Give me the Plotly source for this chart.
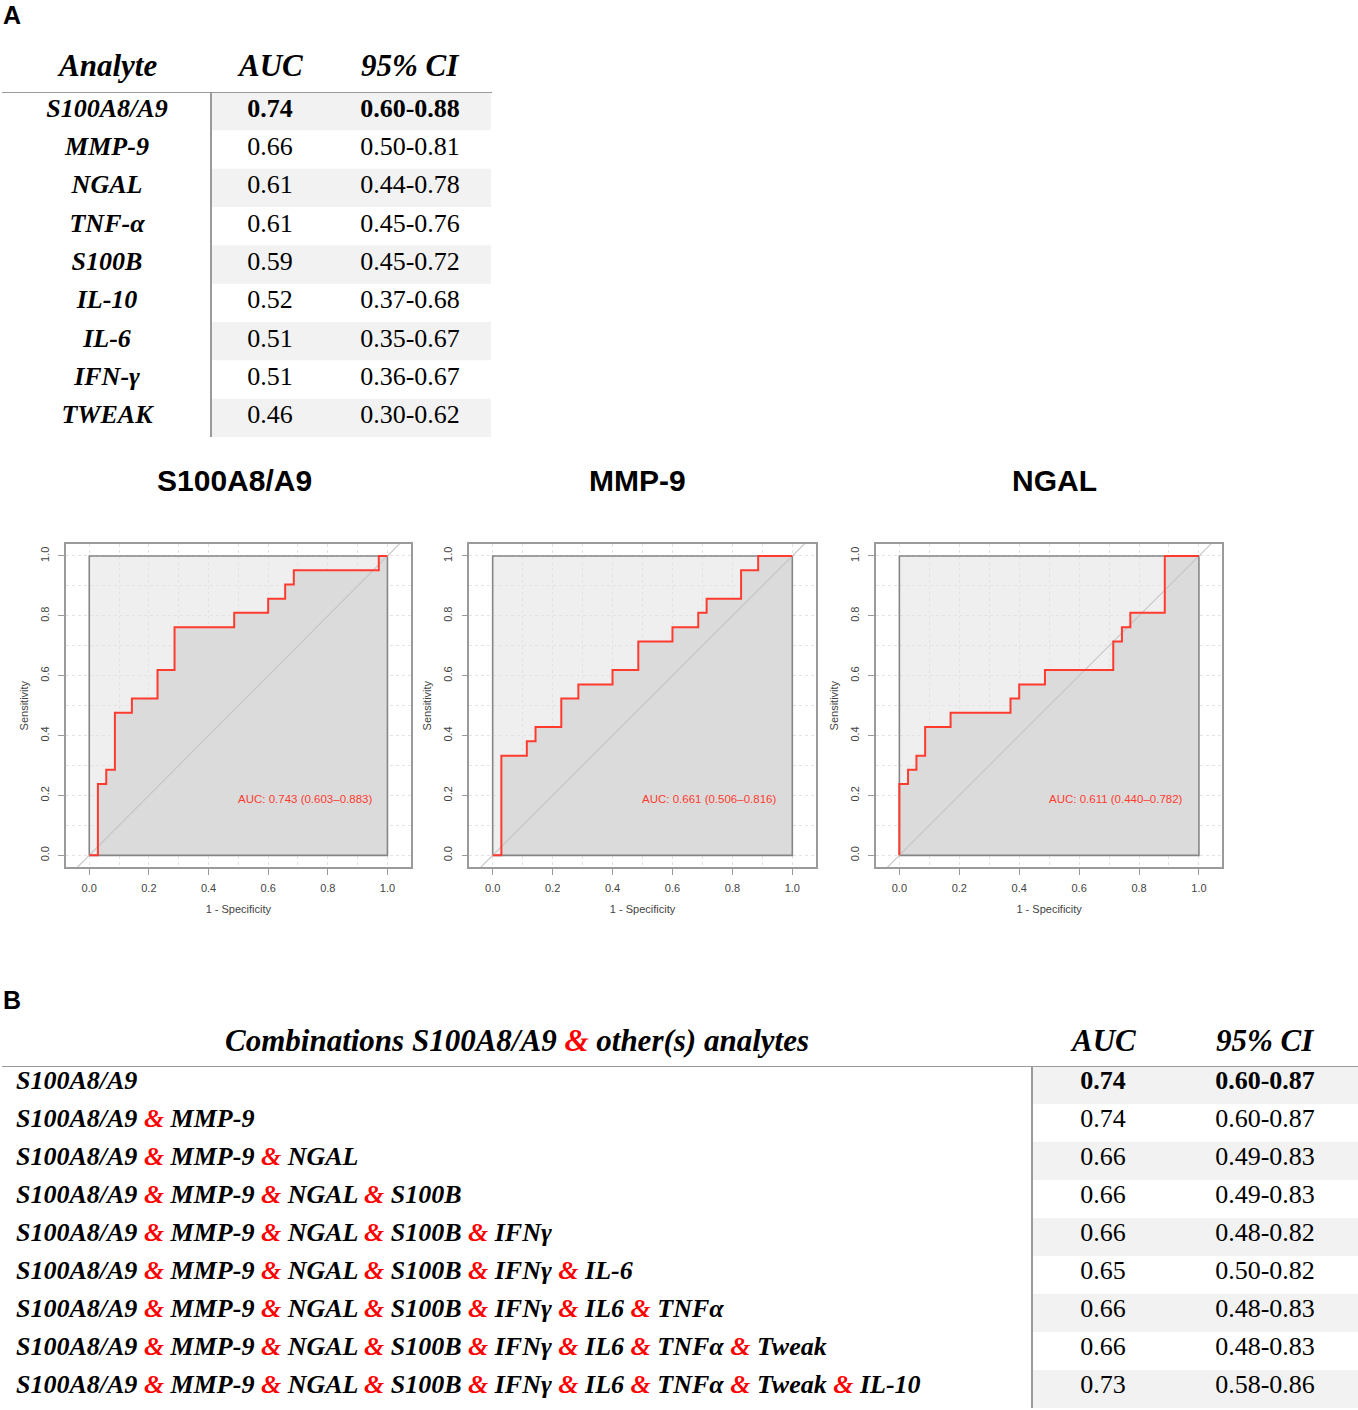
import plotly.graph_objects as go

W, H = 1358, 1410

# ---------------- data ----------------
# Table A
analytes = ["S100A8/A9", "MMP-9", "NGAL", "TNF-α", "S100B", "IL-10", "IL-6", "IFN-γ", "TWEAK"]
auc_a = ["0.74", "0.66", "0.61", "0.61", "0.59", "0.52", "0.51", "0.51", "0.46"]
ci_a = ["0.60-0.88", "0.50-0.81", "0.44-0.78", "0.45-0.76", "0.45-0.72",
        "0.37-0.68", "0.35-0.67", "0.36-0.67", "0.30-0.62"]
header_a = ["Analyte", "AUC", "95% CI"]

# ROC curves (1 - specificity, sensitivity) step corners
roc_names = ["S100A8/A9", "MMP-9", "NGAL"]
roc_fpr_s100 = [0, 0.029, 0.057, 0.086, 0.143, 0.229, 0.286, 0.486, 0.600, 0.657, 0.686, 0.971, 1.0]
roc_tpr_s100 = [0, 0.238, 0.286, 0.476, 0.524, 0.619, 0.762, 0.810, 0.857, 0.905, 0.952, 1.0, 1.0]
roc_fpr_mmp = [0, 0.029, 0.114, 0.143, 0.229, 0.286, 0.400, 0.486, 0.600, 0.686, 0.714, 0.829, 0.886, 1.0]
roc_tpr_mmp = [0, 0.333, 0.381, 0.429, 0.524, 0.571, 0.619, 0.714, 0.762, 0.810, 0.857, 0.952, 1.0, 1.0]
roc_fpr_ngal = [0, 0, 0.029, 0.057, 0.086, 0.171, 0.371, 0.400, 0.486, 0.714, 0.743, 0.771, 0.886, 1.0]
roc_tpr_ngal = [0, 0.238, 0.286, 0.333, 0.429, 0.476, 0.524, 0.571, 0.619, 0.714, 0.762, 0.810, 1.0, 1.0]
roc_auc = [0.743, 0.661, 0.611]
roc_ci_lo = [0.603, 0.506, 0.440]
roc_ci_hi = [0.883, 0.816, 0.782]

# Table B
combos = [
    ["S100A8/A9"],
    ["S100A8/A9", "MMP-9"],
    ["S100A8/A9", "MMP-9", "NGAL"],
    ["S100A8/A9", "MMP-9", "NGAL", "S100B"],
    ["S100A8/A9", "MMP-9", "NGAL", "S100B", "IFNγ"],
    ["S100A8/A9", "MMP-9", "NGAL", "S100B", "IFNγ", "IL-6"],
    ["S100A8/A9", "MMP-9", "NGAL", "S100B", "IFNγ", "IL6", "TNFα"],
    ["S100A8/A9", "MMP-9", "NGAL", "S100B", "IFNγ", "IL6", "TNFα", "Tweak"],
    ["S100A8/A9", "MMP-9", "NGAL", "S100B", "IFNγ", "IL6", "TNFα", "Tweak", "IL-10"],
]
auc_b = ["0.74", "0.74", "0.66", "0.66", "0.66", "0.65", "0.66", "0.66", "0.73"]
ci_b = ["0.60-0.87", "0.60-0.87", "0.49-0.83", "0.49-0.83", "0.48-0.82",
        "0.50-0.82", "0.48-0.83", "0.48-0.83", "0.58-0.86"]
header_b = ["Combinations S100A8/A9 & other(s) analytes", "AUC", "95% CI"]

# ---------------- style ----------------
SANS = "Liberation Sans, Arial, sans-serif"
SERIF = "Liberation Serif, Times New Roman, serif"
RED = "#ff3b2f"
AMP = '<span style="color:#ff0000">&amp;</span>'


def px(x):
    return x / W


def py(y):
    return 1 - y / H


fig = go.Figure()

# ---------------- ROC panels ----------------
panel_x = [(66, 410.7), (469.3, 815.7), (876, 1222.3)]
title_cx = [234, 637, 1054]
rocs = [(roc_fpr_s100, roc_tpr_s100), (roc_fpr_mmp, roc_tpr_mmp), (roc_fpr_ngal, roc_tpr_ngal)]
unit_x = [0, 1, 1, 0, 0]
unit_y = [0, 0, 1, 1, 0]

shapes = []
annotations = []
for k in range(3):
    xa = "x" if k == 0 else f"x{k+1}"
    ya = "y" if k == 0 else f"y{k+1}"
    fpr, tpr = rocs[k]
    shapes.append(dict(type="rect", xref=xa, yref=ya, x0=0, x1=1, y0=0, y1=1,
                       fillcolor="#efefef", line=dict(width=0), layer="below"))
    fig.add_trace(go.Scatter(x=fpr, y=tpr, mode="lines", line=dict(width=0, shape="hv"),
                             fill="tozeroy", fillcolor="#dbdbdb", xaxis=xa, yaxis=ya,
                             hoverinfo="skip", showlegend=False))
    fig.add_trace(go.Scatter(x=unit_x, y=unit_y, mode="lines",
                             line=dict(color="#858585", width=1.6), xaxis=xa, yaxis=ya,
                             hoverinfo="skip", showlegend=False))
    fig.add_trace(go.Scatter(x=[-0.2, 1.2], y=[-0.2, 1.2], mode="lines",
                             line=dict(color="#c4c4c4", width=1.1), xaxis=xa, yaxis=ya,
                             hoverinfo="skip", showlegend=False))
    fig.add_trace(go.Scatter(x=fpr, y=tpr, mode="lines", line=dict(color=RED, width=2, shape="hv"),
                             xaxis=xa, yaxis=ya, showlegend=False, name=roc_names[k]))
    annotations.append(dict(xref=xa, yref=ya, x=0.722, y=0.187, showarrow=False,
                            text=f"AUC: {roc_auc[k]:.3f} ({roc_ci_lo[k]:.3f}–{roc_ci_hi[k]:.3f})",
                            font=dict(family=SANS, size=11.5, color=RED)))
    annotations.append(dict(xref="paper", yref="paper", x=px(title_cx[k]), y=py(480),
                            xanchor="center", yanchor="middle", showarrow=False,
                            text=f"<b>{roc_names[k]}</b>",
                            font=dict(family=SANS, size=30, color="black")))

axis_common = dict(showline=True, mirror=True, linecolor="#9a9a9a", linewidth=1.5,
                   ticks="outside", ticklen=6, tickcolor="#9a9a9a", tickwidth=1.2,
                   tick0=0, dtick=0.2, tickformat=".1f", zeroline=False,
                   showgrid=True, gridcolor="#e3e3e3", griddash="dot", gridwidth=1,
                   minor=dict(dtick=0.1, showgrid=True, gridcolor="#e3e3e3", griddash="dot", gridwidth=1),
                   tickfont=dict(family=SANS, size=11, color="#444"),
                   fixedrange=True)

for k in range(3):
    sx = "" if k == 0 else str(k + 1)
    fig.update_layout(**{
        f"xaxis{sx}": dict(axis_common, domain=[px(panel_x[k][0]), px(panel_x[k][1])],
                           range=[-0.078, 1.078], anchor=f"y{sx}", ticklabelstandoff=4,
                           title=dict(text="1 - Specificity", standoff=12,
                                      font=dict(family=SANS, size=11, color="#444"))),
        f"yaxis{sx}": dict(axis_common, domain=[py(867.3), py(544)],
                           range=[-0.04, 1.04], anchor=f"x{sx}", tickangle=-90, ticklabelstandoff=5,
                           title=dict(text="Sensitivity", standoff=8,
                                      font=dict(family=SANS, size=11, color="#444"))),
    })

# ---------------- Table A ----------------
nA = len(analytes)
rowsA = list(range(nA))
for i in rowsA[::2]:
    shapes.append(dict(type="rect", xref="x4", yref="y4", x0=211, x1=491, y0=i - 0.5, y1=i + 0.5,
                       fillcolor="#f2f2f2", line=dict(width=0), layer="below"))
shapes.append(dict(type="line", xref="x4", yref="y4", x0=2, x1=492, y0=-0.5, y1=-0.5,
                   line=dict(color="#9a9a9a", width=2)))
shapes.append(dict(type="line", xref="x4", yref="y4", x0=211, x1=211, y0=-0.5, y1=nA - 0.5,
                   line=dict(color="#9a9a9a", width=2)))

tyA = [i - 0.03 for i in rowsA]
txt_font = dict(family=SERIF, size=26, color="black")
fig.add_trace(go.Scatter(x=[107] * nA, y=tyA, mode="text", text=[f"<b><i>{a}</i></b>" for a in analytes],
                         textposition="middle center", textfont=txt_font,
                         xaxis="x4", yaxis="y4", cliponaxis=False, hoverinfo="skip", showlegend=False))
fig.add_trace(go.Scatter(x=[270] * nA, y=tyA, mode="text",
                         text=[f"<b>{v}</b>" if i == 0 else v for i, v in enumerate(auc_a)],
                         textposition="middle center", textfont=txt_font,
                         xaxis="x4", yaxis="y4", cliponaxis=False, hoverinfo="skip", showlegend=False))
fig.add_trace(go.Scatter(x=[410] * nA, y=tyA, mode="text",
                         text=[f"<b>{v}</b>" if i == 0 else v for i, v in enumerate(ci_a)],
                         textposition="middle center", textfont=txt_font,
                         xaxis="x4", yaxis="y4", cliponaxis=False, hoverinfo="skip", showlegend=False))
for hx, h in zip([107, 270, 410], header_a):
    annotations.append(dict(xref="paper", yref="paper", x=px(hx), y=py(65), showarrow=False,
                            xanchor="center", yanchor="middle", text=f"<b><i>{h}</i></b>",
                            font=dict(family=SERIF, size=31, color="black")))

# ---------------- Table B ----------------
nB = len(combos)
rowsB = list(range(nB))
for i in rowsB[::2]:
    shapes.append(dict(type="rect", xref="x5", yref="y5", x0=1032, x1=1358, y0=i - 0.5, y1=i + 0.5,
                       fillcolor="#f2f2f2", line=dict(width=0), layer="below"))
shapes.append(dict(type="line", xref="x5", yref="y5", x0=2, x1=1358, y0=-0.5, y1=-0.5,
                   line=dict(color="#9a9a9a", width=2)))
shapes.append(dict(type="line", xref="x5", yref="y5", x0=1032, x1=1032, y0=-0.5, y1=nB - 0.5,
                   line=dict(color="#9a9a9a", width=2)))

labelsB = ["<b><i>" + f" {AMP} ".join(c) + "</i></b>" for c in combos]
tyB = [i - 0.06 for i in rowsB]
fig.add_trace(go.Scatter(x=[16] * nB, y=tyB, mode="text", text=labelsB,
                         textposition="middle right", textfont=txt_font,
                         xaxis="x5", yaxis="y5", cliponaxis=False, hoverinfo="skip", showlegend=False))
fig.add_trace(go.Scatter(x=[1103] * nB, y=tyB, mode="text",
                         text=[f"<b>{v}</b>" if i == 0 else v for i, v in enumerate(auc_b)],
                         textposition="middle center", textfont=txt_font,
                         xaxis="x5", yaxis="y5", cliponaxis=False, hoverinfo="skip", showlegend=False))
fig.add_trace(go.Scatter(x=[1265] * nB, y=tyB, mode="text",
                         text=[f"<b>{v}</b>" if i == 0 else v for i, v in enumerate(ci_b)],
                         textposition="middle center", textfont=txt_font,
                         xaxis="x5", yaxis="y5", cliponaxis=False, hoverinfo="skip", showlegend=False))
hb_text = [header_b[0].replace("&", AMP), header_b[1], header_b[2]]
for hx, h in zip([517, 1103, 1265], hb_text):
    annotations.append(dict(xref="paper", yref="paper", x=px(hx), y=py(1040), showarrow=False,
                            xanchor="center", yanchor="middle", text=f"<b><i>{h}</i></b>",
                            font=dict(family=SERIF, size=31, color="black")))

hidden = dict(visible=False, fixedrange=True)
fig.update_layout(
    xaxis4=dict(hidden, domain=[0, 1], range=[0, W], anchor="y4"),
    yaxis4=dict(hidden, domain=[py(437), py(92)], range=[nA - 0.5, -0.5], anchor="x4"),
    xaxis5=dict(hidden, domain=[0, 1], range=[0, W], anchor="y5"),
    yaxis5=dict(hidden, domain=[py(1408), py(1066)], range=[nB - 0.5, -0.5], anchor="x5"),
)

# panel letters
annotations.append(dict(xref="paper", yref="paper", x=px(1), y=py(15), xanchor="left", yanchor="middle",
                        showarrow=False, text="<b>A</b>", font=dict(family=SANS, size=25, color="black")))
annotations.append(dict(xref="paper", yref="paper", x=px(1), y=py(1000), xanchor="left", yanchor="middle",
                        showarrow=False, text="<b>B</b>", font=dict(family=SANS, size=25, color="black")))

fig.update_layout(width=W, height=H, margin=dict(l=0, r=0, t=0, b=0),
                  paper_bgcolor="white", plot_bgcolor="white",
                  shapes=shapes, annotations=annotations, showlegend=False)

fig.write_html("out.html", config={"displayModeBar": False},
               post_script="document.body.style.margin='0';document.body.style.overflow='hidden';")
